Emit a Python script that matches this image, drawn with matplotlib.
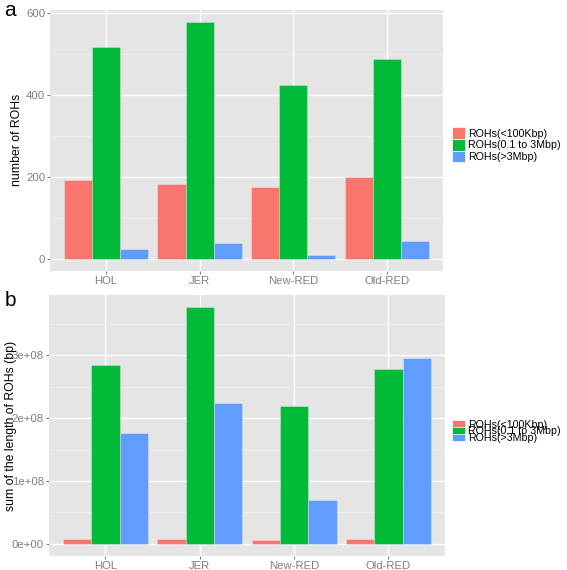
import matplotlib
matplotlib.use("Agg")
import matplotlib.pyplot as plt
import numpy as np
from matplotlib.patches import Patch
from matplotlib.ticker import MultipleLocator, FuncFormatter

plt.rcParams['font.family'] = ['Liberation Sans', 'DejaVu Sans']

breeds = ["HOL", "JER", "New-RED", "Old-RED"]
series = ["ROHs(<100Kbp)", "ROHs(0.1 to 3Mbp)", "ROHs(>3Mbp)"]
colors = ["#F8766D", "#00BA38", "#619CFF"]

# panel a: number of ROHs
count_short = [193, 183, 176, 200]
count_mid = [518, 580, 426, 488]
count_long = [25, 38, 9, 44]

# panel b: summed length of ROHs (bp)
len_short = [7.5e6, 7.6e6, 6.3e6, 8.0e6]
len_mid = [2.846e8, 3.767e8, 2.20e8, 2.789e8]
len_long = [1.757e8, 2.243e8, 0.693e8, 2.963e8]

fig = plt.figure(figsize=(5.67, 5.70), dpi=100)
ax_a = fig.add_axes([0.088, 0.525, 0.693, 0.458])
ax_b = fig.add_axes([0.086, 0.025, 0.699, 0.457])


def draw_panel(ax, data, major, minor, fmt):
    ax.set_facecolor("#E5E5E5")
    ax.set_axisbelow(True)
    x = np.arange(1, len(breeds) + 1)
    w = 0.9 / 3
    for i, vals in enumerate(data):
        ax.bar(x + (i - 1) * w, vals, width=w, color=colors[i],
               edgecolor=(1, 1, 1, 0.35), linewidth=0.6)
    ax.set_xlim(0.4, 4.6)
    top = max(max(v) for v in data)
    ax.set_ylim(-0.05 * top, top * 1.05)
    ax.set_xticks(x)
    ax.set_xticklabels(breeds)
    ax.yaxis.set_major_locator(MultipleLocator(major))
    ax.yaxis.set_minor_locator(MultipleLocator(minor))
    ax.yaxis.set_major_formatter(FuncFormatter(fmt))
    ax.grid(True, which="major", color="white", linewidth=1.0)
    ax.grid(True, which="minor", axis="y", color="#F2F2F2", linewidth=0.5)
    ax.tick_params(axis="y", which="minor", length=0)
    ax.tick_params(which="major", length=2.5, width=0.8, color="#7F7F7F",
                   labelcolor="#7F7F7F", labelsize=8.2, pad=1.0)
    for s in ax.spines.values():
        s.set_visible(False)


draw_panel(ax_a, [count_short, count_mid, count_long], 200, 100,
           lambda v, p: f"{int(round(v))}")


def sci(v, p):
    if abs(v) < 1:
        return "0e+00"
    return f"{v / 1e8:.0f}e+08"


draw_panel(ax_b, [len_short, len_mid, len_long], 1e8, 0.5e8, sci)

ax_a.set_ylabel("number of ROHs", fontsize=8.8)
ax_a.yaxis.set_label_coords(-0.069, 0.5)
ax_b.set_ylabel("sum of the length of ROHs (bp)", fontsize=8.8)
ax_b.yaxis.set_label_coords(-0.081, 0.5)

fig.text(0.008, 0.999, "a", fontsize=15, va="top", ha="left")
fig.text(0.008, 0.489, "b", fontsize=15, va="top", ha="left")

handles = [Patch(facecolor=c, edgecolor="white", linewidth=0.5) for c in colors]
fig.legend(handles, series, loc="center left", bbox_to_anchor=(0.798, 0.746),
           frameon=False, fontsize=7.7, handlelength=1.2, handleheight=1.3,
           handletextpad=0.25, labelspacing=0.0, borderpad=0, borderaxespad=0)
fig.legend(handles, series, loc="center left", bbox_to_anchor=(0.798, 0.243),
           frameon=False, fontsize=7.7, handlelength=1.2, handleheight=0.75,
           handletextpad=0.25, labelspacing=-0.3, borderpad=0, borderaxespad=0)

fig.savefig("out.png", dpi=100)
